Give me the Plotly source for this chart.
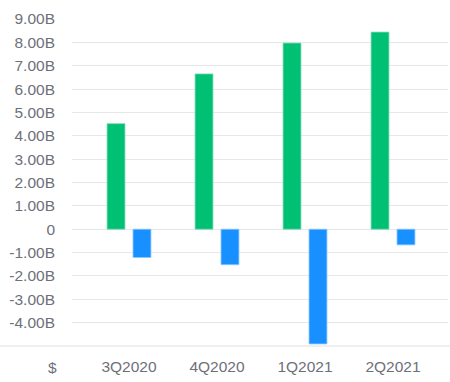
import plotly.graph_objects as go

categories = ["3Q2020", "4Q2020", "1Q2021", "2Q2021"]
green_values = [4.52, 6.65, 7.97, 8.44]
blue_values = [-1.21, -1.52, -4.91, -0.67]
y_tick_values = [9, 8, 7, 6, 5, 4, 3, 2, 1, 0, -1, -2, -3, -4]
y_tick_labels = ["9.00B", "8.00B", "7.00B", "6.00B", "5.00B", "4.00B", "3.00B",
                 "2.00B", "1.00B", "0", "-1.00B", "-2.00B", "-3.00B", "-4.00B"]
unit_label = "$"

W, H = 450, 382
L, R, T, B = 72, 2, 19, 35.5
plot_w = W - L - R
plot_h = H - T - B
FS = 15.5
TXT = "#6e7079"

fig = go.Figure()
fig.add_trace(go.Bar(
    x=categories, y=green_values, name="Revenue",
    marker=dict(color="#00C073", line=dict(color="#7fdcb6", width=0.8)),
))
fig.add_trace(go.Bar(
    x=categories, y=blue_values, name="Net income",
    marker=dict(color="#1890FF", line=dict(color="#8cc6ff", width=0.8)),
))

fig.add_shape(type="line", xref="paper", yref="paper",
              x0=-L / plot_w, x1=1 + R / plot_w, y0=0, y1=0,
              line=dict(color="#e0e0e0", width=1.2))

fig.add_annotation(text=unit_label, xref="paper", yref="paper",
                   x=(52 - L) / plot_w, y=-(368 - (H - B)) / plot_h,
                   showarrow=False, xanchor="center", yanchor="middle",
                   font=dict(size=FS, color=TXT))

fig.update_layout(
    width=W, height=H,
    margin=dict(l=L, r=R, t=T, b=B, pad=0, autoexpand=False),
    paper_bgcolor="white", plot_bgcolor="white",
    barmode="group", bargap=0.41, bargroupgap=0.31,
    showlegend=False,
    font=dict(family="Liberation Sans, Arial, sans-serif", size=FS, color=TXT),
)
fig.update_xaxes(
    automargin=False,
    range=[-(129 - L) / 88, -(129 - L) / 88 + plot_w / 88],
    showgrid=False, zeroline=False, showline=False, ticks="",
    ticklabelstandoff=9,
    tickfont=dict(size=FS, color=TXT),
)
fig.update_yaxes(
    automargin=False,
    range=[-5, 9],
    tickvals=y_tick_values, ticktext=y_tick_labels,
    showgrid=True, gridcolor="#e6e7eb", gridwidth=1.2,
    zeroline=False, showline=False, ticks="",
    ticklabelstandoff=16,
    tickfont=dict(size=FS, color=TXT),
)

fig.write_html(
    "out.html",
    config={"displayModeBar": False},
    post_script="document.body.style.margin='0';document.body.style.padding='0';document.body.style.overflow='hidden';",
)
